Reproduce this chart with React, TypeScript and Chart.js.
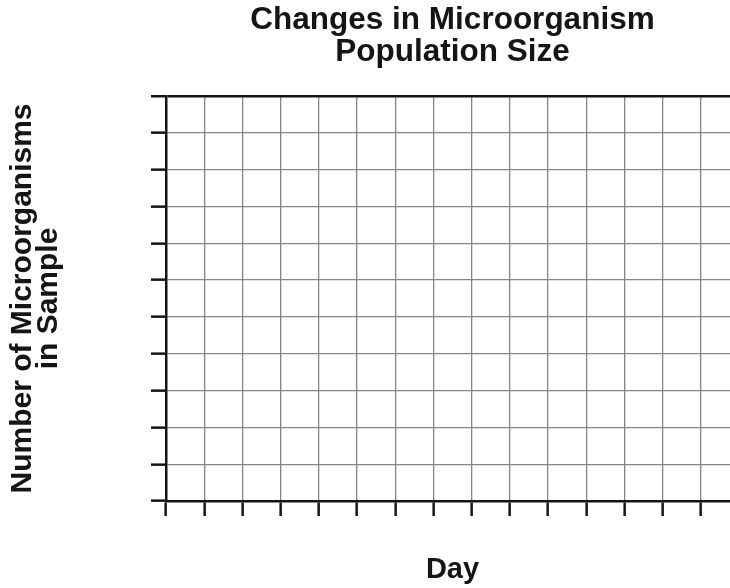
import { useEffect, useRef } from "react";
import { Chart, registerables } from "chart.js";

Chart.register(...registerables);

// ---- chart content ----
const TITLE_LINES = ["Changes in Microorganism", "Population Size"];
const X_TITLE = "Day";
const Y_TITLE_LINES = ["Number of Microorganisms", "in Sample"];

// axis ranges (blank graph paper: no values plotted)
const DAY_MIN = 0;
const DAY_MAX = 15;
const DAY_STEP = 1;
const COUNT_MIN = 0;
const COUNT_MAX = 11;
const COUNT_STEP = 1;

// recorded observations (empty in the reference worksheet)
const DAYS: number[] = [];
const COUNTS: number[] = [];

const INK = "#151515";
const GRID = "#858585";
const FONT = "'Liberation Sans', Arial, Helvetica, sans-serif";

export default function App() {
  const ref = useRef<HTMLCanvasElement>(null);

  useEffect(() => {
    const canvas = ref.current;
    if (!canvas) return;
    const chart = new Chart(canvas, {
      type: "scatter",
      data: {
        datasets: [
          {
            data: DAYS.map((d, i) => ({ x: d, y: COUNTS[i] })),
            showLine: true,
            borderColor: INK,
            pointRadius: 0,
          },
        ],
      },
      options: {
        responsive: false,
        animation: false,
        devicePixelRatio: 1,
        layout: { padding: { left: 0, right: 6, top: 0, bottom: 0 } },
        plugins: {
          legend: { display: false },
          tooltip: { enabled: false },
          title: {
            display: true,
            text: TITLE_LINES,
            fullSize: false,
            color: INK,
            font: { family: FONT, size: 31.5, weight: "bold", lineHeight: "31.5px" },
            padding: { top: 5, bottom: 28 },
          },
        },
        scales: {
          x: {
            type: "linear",
            position: "bottom",
            min: DAY_MIN,
            max: DAY_MAX,
            ticks: { stepSize: DAY_STEP, display: false },
            grid: {
              color: GRID,
              lineWidth: 1.3,
              drawTicks: true,
              tickLength: 15,
              tickColor: INK,
              tickWidth: 2.5,
            },
            border: { display: true, color: INK, width: 2.5 },
            title: {
              display: true,
              text: X_TITLE,
              color: INK,
              font: { family: FONT, size: 29, weight: "bold", lineHeight: "30px" },
              padding: { top: 0, bottom: 3 },
            },
            afterFit: (scale: any) => {
              scale.height = 87;
            },
          },
          y: {
            type: "linear",
            min: COUNT_MIN,
            max: COUNT_MAX,
            ticks: { stepSize: COUNT_STEP, display: false },
            grid: {
              color: (c: any) => (c.tick && c.tick.value === COUNT_MAX ? INK : GRID),
              lineWidth: (c: any) => (c.tick && c.tick.value === COUNT_MAX ? 2.5 : 1.3),
              drawTicks: true,
              tickLength: 15,
              tickColor: INK,
              tickWidth: 2.5,
            },
            border: { display: true, color: INK, width: 2.5 },
            title: {
              display: true,
              text: Y_TITLE_LINES,
              color: INK,
              font: { family: FONT, size: 30, weight: "bold", lineHeight: "26px" },
              padding: { top: 10, bottom: 0 },
            },
            afterFit: (scale: any) => {
              scale.width = 166;
            },
          },
        },
      },
    });
    return () => chart.destroy();
  }, []);

  return (
    <div
      style={{
        position: "absolute",
        left: 0,
        top: 0,
        width: 730,
        height: 588,
        overflow: "hidden",
        background: "#ffffff",
      }}
    >
      <canvas ref={ref} width={745} height={588} style={{ display: "block" }} />
    </div>
  );
}
